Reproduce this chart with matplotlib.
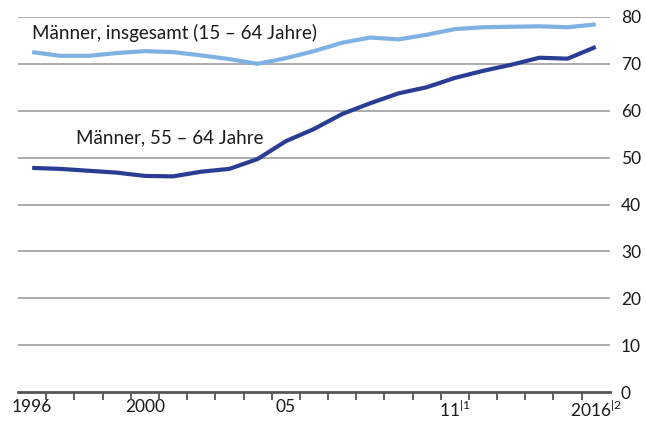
import matplotlib.pyplot as plt

years = list(range(1996, 2017))
insgesamt = [72.5, 71.7, 71.7, 72.3, 72.7, 72.5, 71.8, 71.0, 70.0, 71.2, 72.7,
             74.5, 75.6, 75.2, 76.2, 77.4, 77.8, 77.9, 78.0, 77.8, 78.4]
aeltere = [47.8, 47.6, 47.2, 46.8, 46.1, 46.0, 47.0, 47.6, 49.7, 53.5, 56.1,
           59.3, 61.6, 63.7, 65.0, 67.0, 68.5, 69.8, 71.3, 71.1, 73.6]
tick_years = [1996, 2000, 2005, 2011, 2016]
tick_labels = ['1996', '2000', '05', r'11$^{\mathrm{|1}}$', r'2016$^{\mathrm{|2}}$']

plt.rcParams['font.family'] = ['Lato', 'DejaVu Sans']
plt.rcParams['mathtext.fontset'] = 'custom'
plt.rcParams['mathtext.rm'] = 'Lato'

fig = plt.figure(figsize=(6.46, 4.23), dpi=100)
ax = fig.add_axes([0.028, 0.073, 0.916, 0.887])

# gridlines
for v in range(10, 90, 10):
    ax.axhline(v, color='#a6a6a6', lw=1.3, zorder=1)

ax.plot(years, insgesamt, color='#7fb2e2', lw=3, zorder=3, solid_capstyle='butt')
ax.plot(years, aeltere, color='#2a3d94', lw=3, zorder=3, solid_capstyle='butt')

ax.text(1996, 76.6, 'Männer, insgesamt (15 – 64 Jahre)', fontsize=13.5,
        ha='left', va='center', color='#1a1a1a')
ax.text(1997.55, 54.2, 'Männer, 55 – 64 Jahre', fontsize=13.5,
        ha='left', va='center', color='#1a1a1a')

ax.set_xlim(1995.5, 2016.5)
ax.set_ylim(0, 80)

ax.yaxis.tick_right()
ax.set_yticks(range(0, 90, 10))
ax.tick_params(axis='y', length=0, pad=8, labelsize=12.5, labelcolor='#1a1a1a')

ax.set_xticks(tick_years)
ax.set_xticklabels(tick_labels)
ax.set_xticks([y + 0.5 for y in years[:-1]], minor=True)
ax.tick_params(axis='x', which='major', length=0, pad=5, labelsize=12.5,
               labelcolor='#1a1a1a')
ax.tick_params(axis='x', which='minor', length=6, width=1.3, color='#555555')

for s in ['top', 'left', 'right']:
    ax.spines[s].set_visible(False)
ax.spines['bottom'].set_color('#555555')
ax.spines['bottom'].set_linewidth(2)

plt.savefig('out.png', dpi=100)
